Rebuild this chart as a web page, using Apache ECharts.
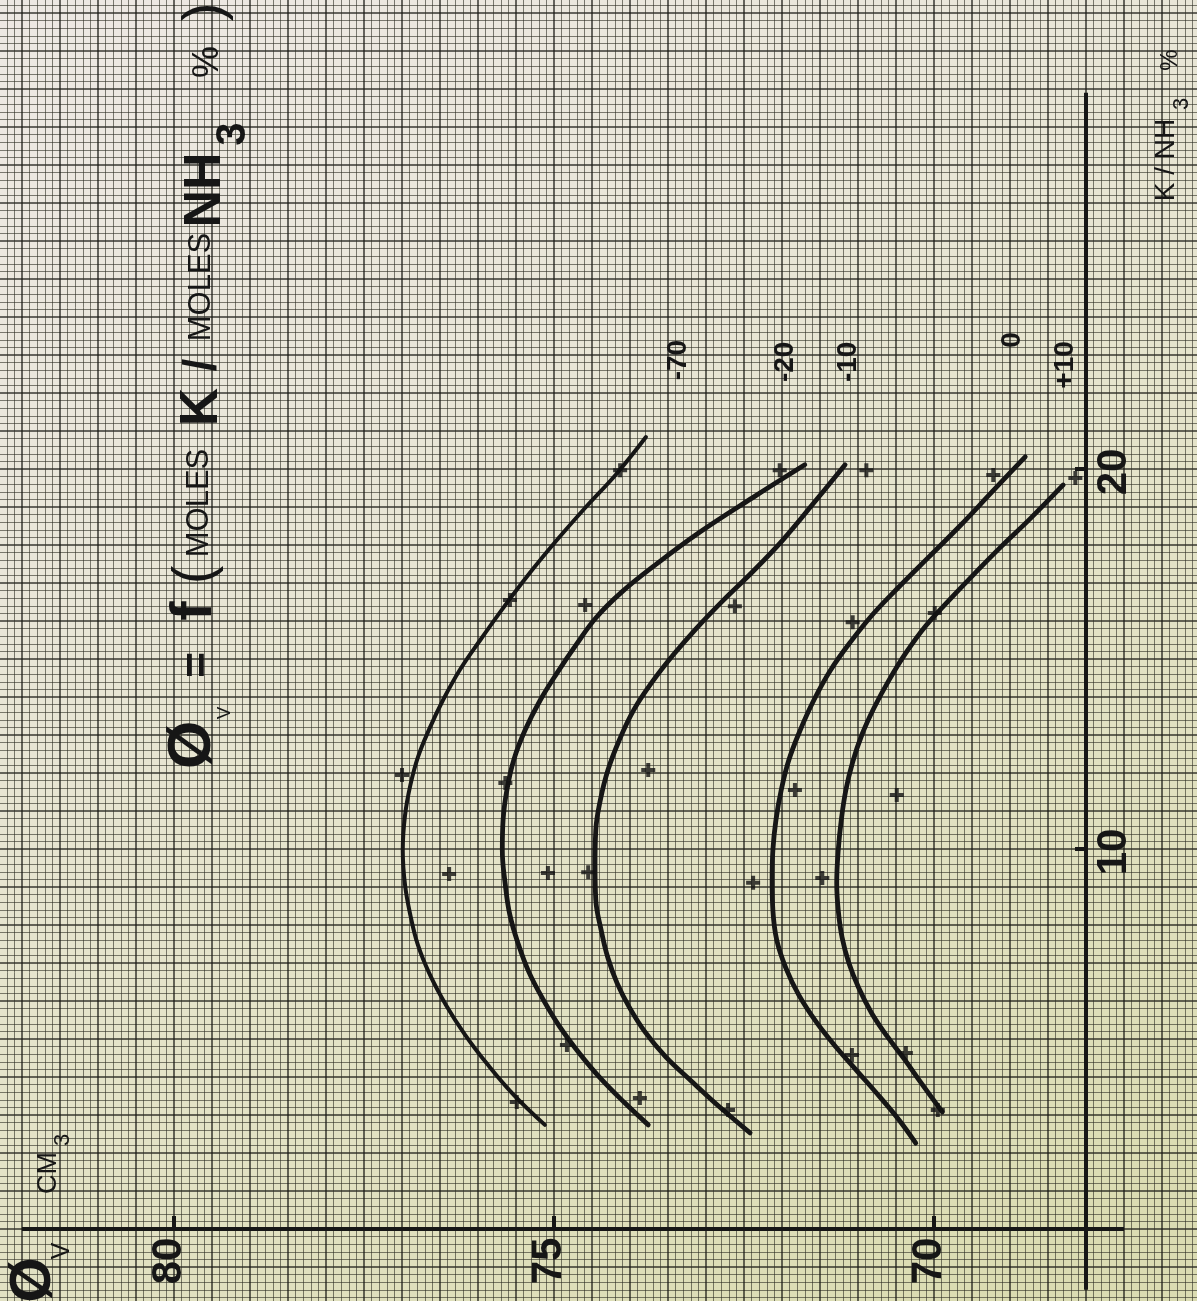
<!DOCTYPE html>
<html>
<head>
<meta charset="utf-8">
<script src="https://cdn.jsdelivr.net/npm/echarts@6/dist/echarts.min.js"></script>
<style>
html, body { margin: 0; padding: 0; background: #e4e2cc; overflow: hidden; }
/* the sheet runs a little past the window on every side */
#chart { position: absolute; left: -20px; top: -25px; width: 1240px; height: 1340px; }
</style>
</head>
<body>
<div id="chart"></div>
<script>
// phi_v (cm3) against K / NH3 %, one curve per temperature
var temps = ['-70', '-20', '-10', '0', '+10'];

// drawn curves, [phi, K%] from low K to high K
var curve_m70 = [[75.12,2.74],[75.53,3.53],[75.87,4.32],[76.17,5.11],[76.42,5.89],[76.63,6.68],[76.79,7.47],[76.89,8.26],[76.96,9.05],[76.99,9.97],[76.96,10.89],[76.89,11.68],[76.79,12.42],[76.64,13.16],[76.46,13.92],[76.24,14.71],[75.97,15.50],[75.67,16.34],[75.34,17.21],[74.97,18.11],[74.58,19.00],[74.17,19.89],[73.79,20.84]];
var curve_m20 = [[73.76,2.74],[74.07,3.32],[74.39,3.97],[74.68,4.66],[74.93,5.34],[75.14,6.03],[75.33,6.76],[75.47,7.50],[75.58,8.26],[75.64,9.05],[75.68,9.97],[75.67,10.76],[75.62,11.55],[75.53,12.34],[75.38,13.13],[75.18,13.92],[74.95,14.66],[74.71,15.37],[74.45,16.08],[74.11,16.76],[73.67,17.47],[73.08,18.34],[72.39,19.24],[71.70,20.11]];
var curve_m10 = [[72.42,2.53],[72.82,3.21],[73.18,3.87],[73.53,4.53],[73.80,5.18],[74.01,5.84],[74.17,6.47],[74.29,7.13],[74.38,7.87],[74.45,8.66],[74.46,9.58],[74.45,10.50],[74.39,11.29],[74.29,12.08],[74.14,12.87],[73.95,13.66],[73.71,14.39],[73.43,15.11],[73.12,15.82],[72.78,16.53],[72.39,17.29],[71.99,18.13],[71.58,19.11],[71.17,20.11]];
var curve_0 = [[70.24,2.26],[70.46,2.87],[70.71,3.47],[71.00,4.13],[71.29,4.79],[71.55,5.45],[71.78,6.16],[71.95,6.87],[72.07,7.61],[72.12,8.39],[72.13,9.18],[72.12,9.97],[72.08,10.76],[72.01,11.55],[71.91,12.34],[71.76,13.13],[71.58,13.92],[71.36,14.71],[71.09,15.47],[70.79,16.21],[70.45,16.92],[70.07,17.68],[69.66,18.50],[69.24,19.39],[68.80,20.32]];
var curve_p10 = [[69.89,3.08],[70.16,3.82],[70.39,4.47],[70.62,5.08],[70.82,5.68],[70.99,6.34],[71.12,7.00],[71.21,7.68],[71.26,8.39],[71.28,9.11],[71.26,9.97],[71.22,10.76],[71.16,11.55],[71.07,12.29],[70.95,13.00],[70.79,13.71],[70.59,14.45],[70.37,15.16],[70.11,15.87],[69.80,16.55],[69.47,17.24],[69.12,17.95],[68.74,18.68],[68.30,19.58]];

// measured points (crosses)
var points_m70 = [[75.49,3.34],[76.38,9.34],[77.00,11.95],[75.58,16.55],[74.13,19.97]];
var points_m20 = [[73.87,3.45],[74.83,4.84],[75.08,9.37],[75.64,11.74],[74.59,16.42],[72.03,19.97]];
var points_m10 = [[72.71,3.13],[74.55,9.39],[73.76,12.08],[72.62,16.39],[70.89,19.97]];
var points_0 = [[71.08,4.58],[72.38,9.11],[71.83,11.55],[71.07,15.97],[69.22,19.84]];
var points_p10 = [[69.95,3.13],[70.37,4.63],[71.47,9.24],[70.49,11.42],[69.99,16.21],[68.14,19.76]];

// axes
var phiTicks = [70, 75, 80];
var kTicks = [10, 20];
var phiAxisLine = [[82.0, 0], [67.5, 0]];
var kAxisLine = [[68, -1.6], [68, 29.9]];

var curves = [curve_m70, curve_m20, curve_m10, curve_0, curve_p10];
var points = [points_m70, points_m20, points_m10, points_0, points_p10];

// pixel shift of each temperature label from the top end of its curve
var labelShift = {'-70': [32, -77], '-20': [-20, -103], '-10': [3, -103], '0': [-13, -117], '+10': [2, -120]};

var OX = 20, OY = 25; // page -> chart offset (chart div sits at -20,-25)
var INK = '#161616';
var FONT = '"Liberation Sans", Arial, sans-serif';
var plus = 'path://M5,0H9V5H14V9H9V14H5V9H0V5H5Z';

var chart = echarts.init(document.getElementById('chart'));

var series = [];
series.push({
  name: 'phiAxis', type: 'line', data: phiAxisLine, symbol: 'none', silent: true, z: 4,
  lineStyle: { color: INK, width: 4 }
});
series.push({
  name: 'kAxis', type: 'line', data: kAxisLine, symbol: 'none', silent: true, z: 4,
  lineStyle: { color: INK, width: 4 }
});
temps.forEach(function (t, i) {
  series.push({
    name: t, type: 'line', data: curves[i], smooth: 0.4, symbol: 'none', z: 5,
    lineStyle: { color: INK, width: i === 0 ? 4 : 4.8, cap: 'round' }
  });
  series.push({
    name: t + ' pts', type: 'scatter', data: points[i], symbol: plus, symbolSize: 14, z: 6,
    itemStyle: { color: '#111' }
  });
});

var paper = {
  type: 'linear', x: 0.2, y: 0, x2: 0.8, y2: 1,
  colorStops: [
    { offset: 0, color: '#ede8e2' },
    { offset: 0.3, color: '#e9e6d8' },
    { offset: 0.6, color: '#e4e3c8' },
    { offset: 1, color: '#dbdcb2' }
  ]
};

var paperAxis = function (min, max, interval) {
  return {
    type: 'value', min: min, max: max, interval: interval,
    axisLine: { show: false }, axisTick: { show: false }, axisLabel: { show: false },
    splitLine: { show: true, lineStyle: { color: 'rgba(25,25,20,0.85)', width: 1.5 } },
    minorTick: { show: false, splitNumber: 5 },
    minorSplitLine: { show: true, lineStyle: { color: 'rgba(45,45,35,0.6)', width: 1 } }
  };
};

var xAxis = paperAxis(66.5, 82.5, 0.5);
xAxis.inverse = true;

chart.setOption({
  animation: false,
  grid: { left: 4, top: 0, width: 1216, height: 1330, show: true, borderWidth: 0, backgroundColor: paper, outerBoundsMode: 'none' },
  xAxis: xAxis,
  yAxis: paperAxis(-2, 33, 1),
  series: series
});

// rotated lettering (the sheet is photographed on its side)
var rtext = function (str, x, y, size, weight) {
  return {
    type: 'text', x: x, y: y, rotation: Math.PI / 2, z: 60,
    style: {
      text: str, fill: INK, font: (weight || 'normal') + ' ' + size + 'px ' + FONT,
      textAlign: 'center', textVerticalAlign: 'middle', align: 'center', verticalAlign: 'middle'
    }
  };
};

var g = [];
var px = function (p) { return chart.convertToPixel({ gridIndex: 0 }, p); };

phiTicks.forEach(function (v) {
  var p = px([v, 0]);
  g.push({ type: 'line', z: 55, shape: { x1: p[0], y1: p[1] - 13, x2: p[0], y2: p[1] + 1 }, style: { stroke: INK, lineWidth: 4 } });
  g.push(rtext(String(v), p[0] - 5, p[1] + 32, 42, 'bold'));
});
kTicks.forEach(function (v) {
  var p = px([68, v]);
  g.push({ type: 'line', z: 55, shape: { x1: p[0] - 11, y1: p[1], x2: p[0], y2: p[1] }, style: { stroke: INK, lineWidth: 4 } });
  g.push(rtext(String(v), p[0] + 28, p[1] + 3, 42, 'bold'));
});
var top = px(kAxisLine[1]);
g.push({ type: 'circle', z: 55, shape: { cx: top[0], cy: top[1], r: 4 }, style: { fill: INK } });

temps.forEach(function (t, i) {
  var c = curves[i];
  var p = px(c[c.length - 1]);
  var s = labelShift[t];
  g.push(rtext(t, p[0] + s[0], p[1] + s[1], 28, 'bold'));
});

// title
var title = [
  ['Ø', 193, 745, 62, 'bold'],
  ['V', 225, 713, 19, 'normal'],
  ['=', 199, 665, 44, 'bold'],
  ['f', 195, 611, 58, 'bold'],
  ['(', 196, 575, 56, 'normal'],
  ['MOLES', 199, 503, 31, 'normal'],
  ['K', 202, 407, 53, 'bold'],
  ['/', 203, 365, 46, 'bold'],
  ['MOLES', 201, 287, 31, 'normal'],
  ['NH', 206, 190, 52, 'bold'],
  ['3', 233, 134, 42, 'bold'],
  ['%', 208, 62, 36, 'normal'],
  [')', 206, 12, 56, 'normal']
];
// axis names
var names = [
  ['K / NH', 1166, 160, 28, 'normal'],
  ['3', 1182, 104, 22, 'normal'],
  ['%', 1170, 60, 24, 'normal'],
  ['Ø', 34, 1280, 58, 'bold'],
  ['V', 62, 1251, 25, 'normal'],
  ['CM', 49, 1173, 27, 'normal'],
  ['3', 63, 1140, 22, 'normal']
];
title.concat(names).forEach(function (d) {
  g.push(rtext(d[0], d[1] + OX, d[2] + OY, d[3], d[4]));
});

chart.setOption({ graphic: g });
</script>
</body>
</html>
